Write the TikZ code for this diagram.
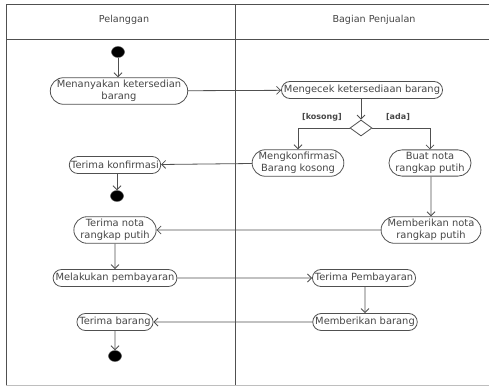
\documentclass[tikz,border=0pt]{standalone}
\usepackage{fontspec}
\setmainfont{DejaVu Sans}
\usetikzlibrary{arrows.meta, shapes.misc, shapes.geometric, positioning}
\definecolor{LineGrau}{RGB}{80,80,80}
\definecolor{TextGrau}{RGB}{70,70,70}
\definecolor{RandGrau}{RGB}{190,190,190}
\tikzset{
    activity/.style={rounded rectangle, draw=LineGrau, thick, text=TextGrau, align=center,
        font=\fontsize{9.9}{12}\selectfont, inner xsep=1pt, inner ysep=2.5pt, minimum height=17pt},
    dot/.style={ellipse, fill=black, draw=LineGrau, minimum width=13pt, minimum height=11pt, inner sep=0pt},
    decision/.style={diamond, draw=LineGrau, thick, fill=white, minimum width=22pt, minimum height=16pt, inner sep=0pt},
    flow/.style={thick, LineGrau, -{Straight Barb[length=4pt,width=8pt]}},
    guard/.style={font=\bfseries\fontsize{8}{9}\selectfont, text=TextGrau},
    lane/.style={font=\fontsize{9.6}{11}\selectfont, text=TextGrau}
}
\begin{document}
\begin{tikzpicture}[x=1pt, y=-1pt]
    \useasboundingbox (0, 0) rectangle (489, 387);
    % Rahmen und Bahnen
    \draw[RandGrau, thick] (6, 385) -- (489, 385);
    \draw[LineGrau, thick] (489, 4) -- (6, 4) -- (6, 385);
    \draw[LineGrau, thick] (6, 39) -- (489, 39);
    \draw[LineGrau, thick] (235, 4) -- (235, 385);
    \node[lane] (Pelanggan) at (124, 20) {Pelanggan};
    \node[lane] (Penjualan) at (374, 20) {Bagian Penjualan};

    % Pelanggan
    \node[dot] (start) at (118, 52) {};
    \node[activity] (tanya) at (119, 91) {Menanyakan ketersedian\\barang};
    \node[activity] (konf) at (115, 165) {Terima konfirmasi};
    \node[dot] (end1) at (117, 196) {};
    \node[activity] (nota) at (115, 230) {Terima nota\\rangkap putih};
    \node[activity] (bayar) at (115, 278) {Melakukan pembayaran};
    \node[activity] (barang) at (115, 322) {Terima barang};
    \node[dot] (end2) at (115, 356) {};

    % Bagian Penjualan
    \node[activity] (cek) at (362, 90) {Mengecek ketersediaan barang};
    \node[decision] (dec) at (361, 128) {};
    \node[activity] (kosong) at (298, 163) {Mengkonfirmasi\\Barang kosong};
    \node[activity] (buat) at (430, 163) {Buat nota\\rangkap putih};
    \node[activity] (beri) at (431, 230) {Memberikan nota\\rangkap putih};
    \node[activity] (terimabayar) at (364, 278) {Terima Pembayaran};
    \node[activity] (beribarang) at (365, 322) {Memberikan barang};
    \node[guard] (gkosong) at (322, 117) {[kosong]};
    \node[guard] (gada) at (398, 117) {[ada]};

    % Alur
    \path[flow] (start)  edge (tanya.north -| start);
    \path[flow] (tanya)  edge (cek);
    \path[flow] (cek.south -| dec) edge (dec);
    \draw[flow] (dec.west) -| (kosong.north);
    \draw[flow] (dec.east) -| (buat.north);
    \path[flow] (kosong) edge (konf);
    \path[flow] (konf.south -| end1) edge (end1);
    \path[flow] (buat.south -| beri) edge (beri);
    \path[flow] (beri)   edge (nota);
    \path[flow] (nota)   edge (bayar);
    \path[flow] (bayar)  edge (terimabayar);
    \path[flow] (terimabayar.south -| beribarang) edge (beribarang);
    \path[flow] (beribarang) edge (barang);
    \path[flow] (barang) edge (end2);
\end{tikzpicture}
\end{document}
